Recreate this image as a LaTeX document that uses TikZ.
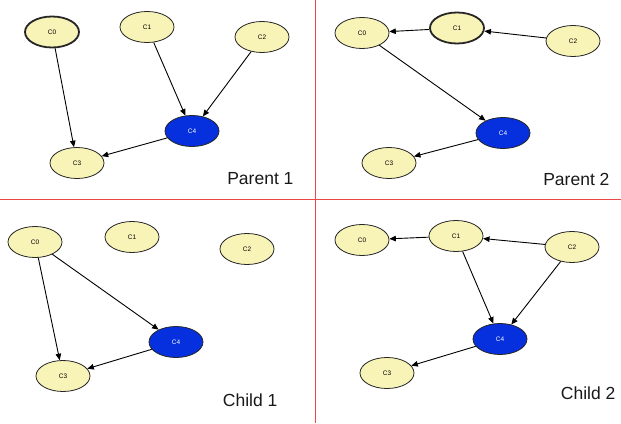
\documentclass[tikz,border=0pt]{standalone}
\usepackage{fontspec}
\setmainfont{Liberation Sans}
\usetikzlibrary{shapes.geometric,arrows.meta}
\definecolor{nodeyellow}{RGB}{248,244,184}
\definecolor{nodeblue}{RGB}{6,48,222}
\definecolor{splitred}{RGB}{235,70,70}
\tikzset{
  var/.style={ellipse,draw=black!85,line width=0.8pt,fill=nodeyellow,
    minimum width=54pt,minimum height=31pt,inner sep=0pt,font=\fontsize{6.5}{7}\selectfont},
  boldvar/.style={var,line width=1.8pt},
  target/.style={var,fill=nodeblue,text=white},
  link/.style={draw=black,line width=0.9pt,-{Triangle[length=6.5pt,width=5.5pt]}},
  caption/.style={anchor=east,text=black!90,font=\fontsize{17.5}{20}\selectfont},
  splitband/.style={fill=splitred,draw=none}
}
\begin{document}
\begin{tikzpicture}[x=1pt,y=-1pt]
\useasboundingbox[fill=white] (0,0) rectangle (621,423);
% quadrant dividers, drawn as thin filled bands
\coordinate (vt) at (315,0);
\coordinate (vb) at (316,423);
\coordinate (hl) at (0,199);
\coordinate (hr) at (621,200);
\fill[splitband] (vt) rectangle (vb);
\fill[splitband] (hl) rectangle (hr);

% Parent 1
\node[boldvar] (a0) at (52,32) {C0};
\node[var] (a1) at (147,27) {C1};
\node[var] (a2) at (262,37) {C2};
\node[target] (a4) at (192,131) {C4};
\node[var] (a3) at (77,163) {C3};
\node[caption] (pa) at (297,179) {Parent 1};
\draw[link] (a0) -- (a3);
\draw[link] (a1) -- (a4);
\draw[link] (a2) -- (a4);
\draw[link] (a4) -- (a3);

% Parent 2
\node[var] (b0) at (362,33) {C0};
\node[boldvar] (b1) at (457,28) {C1};
\node[var] (b2) at (573,41) {C2};
\node[target] (b4) at (503,133) {C4};
\node[var] (b3) at (389,163) {C3};
\node[caption] (pb) at (613,179) {Parent 2};
\draw[link] (b1) -- (b0);
\draw[link] (b2) -- (b1);
\draw[link] (b0) -- (b4);
\draw[link] (b4) -- (b3);

% Child 1
\node[var] (c0) at (35,242) {C0};
\node[var] (c1) at (132,237) {C1};
\node[var] (c2) at (247,249) {C2};
\node[target] (c4) at (176,342) {C4};
\node[var] (c3) at (63,376) {C3};
\node[caption] (pc) at (281,400) {Child 1};
\draw[link] (c0) -- (c3);
\draw[link] (c0) -- (c4);
\draw[link] (c4) -- (c3);

% Child 2
\node[var] (d0) at (362,240) {C0};
\node[var] (d1) at (456,236) {C1};
\node[var] (d2) at (572,247) {C2};
\node[target] (d4) at (500,339) {C4};
\node[var] (d3) at (387,373) {C3};
\node[caption] (pd) at (619,393) {Child 2};
\draw[link] (d1) -- (d0);
\draw[link] (d2) -- (d1);
\draw[link] (d1) -- (d4);
\draw[link] (d2) -- (d4);
\draw[link] (d4) -- (d3);
\end{tikzpicture}
\end{document}
